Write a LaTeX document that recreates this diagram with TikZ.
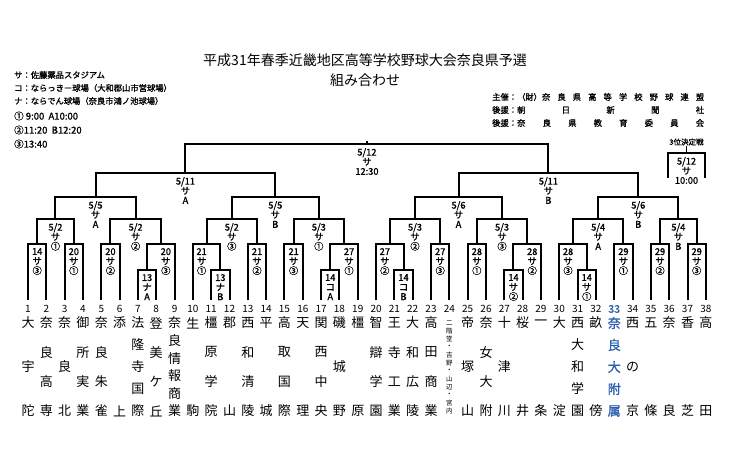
\documentclass[tikz,border=0pt]{standalone}
\usepackage{fontspec}
\setmainfont{Noto Sans CJK JP}
\newfontfamily\bfam[FakeBold=1.2]{Noto Sans CJK JP}
\usetikzlibrary{calc}
\definecolor{blu}{HTML}{2A5FB0}
\tikzset{
  ln/.style={line width=2pt},
  lab/.style={font=\bfam\fontsize{9.3}{9.6}\selectfont, align=center, inner sep=0pt, anchor=north},
  num/.style={font=\fontsize{10}{10}\selectfont, inner sep=0pt},
  nm/.style={font=\fontsize{13}{13}\selectfont, inner sep=0pt},
  hd/.style={font=\bfam\fontsize{8.3}{9}\selectfont, inner sep=0pt, anchor=west}
}
\newcommand\mtch[6]{%
  \coordinate (tmp) at ($(#2)!.5!(#3)$);
  \coordinate (yy) at (0,#4);
  \coordinate (#1) at (tmp |- yy);
  \draw[ln] (#2) |- (#1) -| (#3);
  \node[lab] (#1l) at ([yshift=-4pt,xshift=#6pt]#1) {#5};}
\newcommand\tm[4][]{%
  \pgfmathsetmacro\xx{28+(#2-1)*18.32}
  \foreach \c [count=\k] in {#4} {
    \pgfmathsetmacro\yy{323+(\k-1)*88/(#3-1)}
    \node[nm,#1] (t#2-\k) at (\xx,\yy) {\c};}}
\begin{document}
\begin{tikzpicture}[x=1pt,y=-1pt]
\useasboundingbox (0,0) rectangle (730,450);
\fill[white] (0,0) rectangle (730,450);
% header
\node[font=\fontsize{14}{15}\selectfont] (title) at (365,60) {平成31年春季近畿地区高等学校野球大会奈良県予選};
\node[font=\fontsize{14}{15}\selectfont] (sub) at (365,80) {組み合わせ};
\node[hd] (h1) at (14,75) {サ：佐藤薬品スタジアム};
\node[hd] (h2) at (14,88) {コ：ならっきー球場（大和郡山市営球場）};
\node[hd] (h3) at (14,101) {ナ：ならでん球場（奈良市鴻ノ池球場）};
\node[hd,font=\bfam\fontsize{9.5}{10}\selectfont] (h4) at (14,116) {① 9:00\ \ A10:00};
\node[hd,font=\bfam\fontsize{9.5}{10}\selectfont] (h5) at (14,130) {②11:20\ \ B12:20};
\node[hd,font=\bfam\fontsize{9.5}{10}\selectfont] (h6) at (14,144) {③13:40};
\node[hd] (r1) at (492,97) {主催：\makebox[187pt][s]{（財）奈 良 県 高 等 学 校 野 球 連 盟}};
\node[hd] (r2) at (492,110) {後援：\makebox[187pt][s]{朝 日 新 聞 社}};
\node[hd] (r3) at (492,123) {後援：\makebox[187pt][s]{奈 良 県 教 育 委 員 会}};
% teams
\foreach \i in {1,...,38} {
  \pgfmathsetmacro\xx{28+(\i-1)*18.32}
  \coordinate (T\i) at (\xx,300);
}
\foreach \i in {1,...,32,34,35,36,37,38} {
  \pgfmathsetmacro\xx{28+(\i-1)*18.32}
  \node[num] (n\i) at (\xx,309) {\i};
}
\node[num,text=blu,font=\bfam\fontsize{10.5}{11}\selectfont] (n33) at (614.2,309) {33};
\tm{1}{3}{大,宇,陀}
\tm{2}{4}{奈,良,高,専}
\tm{3}{3}{奈,良,北}
\tm{4}{4}{御,所,実,業}
\tm{5}{4}{奈,良,朱,雀}
\tm{6}{2}{添,上}
\tm{7}{5}{法,隆,寺,国,際}
\tm{8}{4}{登,美,ケ,丘}
\tm{9}{6}{奈,良,情,報,商,業}
\tm{10}{2}{生,駒}
\tm{11}{4}{橿,原,学,院}
\tm{12}{2}{郡,山}
\tm{13}{4}{西,和,清,陵}
\tm{14}{2}{平,城}
\tm{15}{4}{高,取,国,際}
\tm{16}{2}{天,理}
\tm{17}{4}{関,西,中,央}
\tm{18}{3}{磯,城,野}
\tm{19}{2}{橿,原}
\tm{20}{4}{智,辯,学,園}
\tm{21}{4}{王,寺,工,業}
\tm{22}{4}{大,和,広,陵}
\tm{23}{4}{高,田,商,業}
\tm[font=\fontsize{6.5}{7}\selectfont]{24}{12}{二,階,堂,・,吉,野,・,山,辺,・,宮,内}
\tm{25}{3}{帝,塚,山}
\tm{26}{4}{奈,女,大,附}
\tm{27}{3}{十,津,川}
\tm{28}{2}{桜,井}
\tm{29}{2}{一,条}
\tm{30}{2}{大,淀}
\tm{31}{5}{西,大,和,学,園}
\tm{32}{2}{畝,傍}
\tm[text=blu,font=\bfam\fontsize{13}{13}\selectfont]{33}{5}{奈,良,大,附,属}
\tm{34}{3}{西,の,京}
\tm{35}{2}{五,條}
\tm{36}{2}{奈,良}
\tm{37}{2}{香,芝}
\tm{38}{2}{高,田}
% round 1
\mtch{a1}{T1}{T2}{244}{14\\サ\\③}{0}
\mtch{a2}{T3}{T4}{244}{20\\サ\\①}{0}
\mtch{a3}{T5}{T6}{244}{20\\サ\\②}{0}
\mtch{s1}{T7}{T8}{270}{13\\ナ\\A}{0}
\mtch{a4}{s1}{T9}{244}{20\\サ\\③}{5}
\mtch{s2}{T11}{T12}{270}{13\\ナ\\B}{0}
\mtch{a5}{T10}{s2}{244}{21\\サ\\①}{-5}
\mtch{a6}{T13}{T14}{244}{21\\サ\\②}{0}
\mtch{a7}{T15}{T16}{244}{21\\サ\\③}{0}
\mtch{s3}{T17}{T18}{270}{14\\コ\\A}{0}
\mtch{a8}{s3}{T19}{244}{27\\サ\\①}{5}
\mtch{s4}{T21}{T22}{270}{14\\コ\\B}{0}
\mtch{a9}{T20}{s4}{244}{27\\サ\\②}{-5}
\mtch{a10}{T23}{T24}{244}{27\\サ\\③}{0}
\mtch{a11}{T25}{T26}{244}{28\\サ\\①}{0}
\mtch{s5}{T27}{T28}{270}{14\\サ\\②}{0}
\mtch{a12}{s5}{T29}{244}{28\\サ\\②}{5}
\mtch{s6}{T31}{T32}{270}{14\\サ\\①}{0}
\mtch{a13}{T30}{s6}{244}{28\\サ\\③}{-5}
\mtch{a14}{T33}{T34}{244}{29\\サ\\①}{0}
\mtch{a15}{T35}{T36}{244}{29\\サ\\②}{0}
\mtch{a16}{T37}{T38}{244}{29\\サ\\③}{0}
% round 2
\mtch{b1}{a1}{a2}{219}{5/2\\サ\\①}{0}
\mtch{b2}{a3}{a4}{219}{5/2\\サ\\②}{0}
\mtch{b3}{a5}{a6}{219}{5/2\\サ\\③}{0}
\mtch{b4}{a7}{a8}{219}{5/3\\サ\\①}{0}
\mtch{b5}{a9}{a10}{219}{5/3\\サ\\②}{0}
\mtch{b6}{a11}{a12}{219}{5/3\\サ\\③}{0}
\mtch{b7}{a13}{a14}{219}{5/4\\サ\\A}{0}
\mtch{b8}{a15}{a16}{219}{5/4\\サ\\B}{0}
% round 3
\mtch{c1}{b1}{b2}{197}{5/5\\サ\\A}{0}
\mtch{c2}{b3}{b4}{197}{5/5\\サ\\B}{0}
\mtch{c3}{b5}{b6}{197}{5/6\\サ\\A}{0}
\mtch{c4}{b7}{b8}{197}{5/6\\サ\\B}{0}
% round 4
\mtch{d1}{c1}{c2}{173}{5/11\\サ\\A}{0}
\mtch{d2}{c3}{c4}{173}{5/11\\サ\\B}{0}
% final
\mtch{f}{d1}{d2}{144}{5/12\\サ\\12:30}{0}
\draw[ln] (f) -- ++(0,-3);
% third place
\coordinate (q1) at (668,178);
\coordinate (q2) at (705,178);
\mtch{q}{q1}{q2}{153}{5/12\\サ\\10:00}{0}
\node[lab,anchor=center,font=\bfam\fontsize{7.5}{8}\selectfont] (qt) at (686.5,142) {3位決定戦};
\draw[line width=1pt] (qt.south) -- (q);
\end{tikzpicture}
\end{document}
